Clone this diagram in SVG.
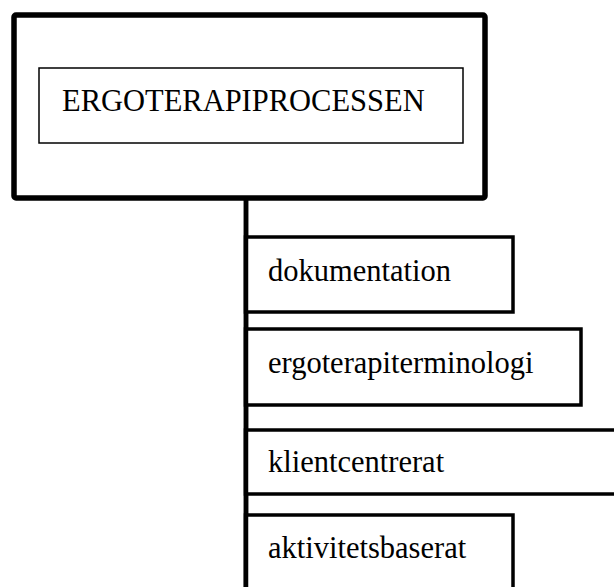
<svg xmlns="http://www.w3.org/2000/svg" width="614" height="587" viewBox="0 0 614 587">
<style>
.lbl{font-family:"Liberation Serif","Times New Roman",serif;font-size:30.5px;fill:#000}
.child{fill:#fff;stroke:#000;stroke-width:3.5}
</style>
<rect width="614" height="587" fill="#fff"/>
<g id="connectors">
<line x1="246" y1="198" x2="246" y2="590" stroke="#000" stroke-width="4.5"/>
</g>
<g id="root">
<rect x="14" y="15" width="471" height="183" rx="2" fill="#fff" stroke="#000" stroke-width="5.5"/>
<rect x="39" y="68" width="424" height="75" fill="none" stroke="#000" stroke-width="1.5"/>
<text class="lbl" x="62" y="111">ERGOTERAPIPROCESSEN</text>
</g>
<g id="dokumentation">
<rect class="child" x="245.5" y="237" width="267.5" height="75"/>
<text class="lbl" x="268" y="281">dokumentation</text>
</g>
<g id="ergoterapiterminologi">
<rect class="child" x="245.5" y="329" width="335.5" height="76"/>
<text class="lbl" x="268" y="373">ergoterapiterminologi</text>
</g>
<g id="klientcentrerat">
<rect class="child" x="245.5" y="430" width="400" height="64"/>
<text class="lbl" x="268" y="472">klientcentrerat</text>
</g>
<g id="aktivitetsbaserat">
<rect class="child" x="245.5" y="515" width="267.5" height="100"/>
<text class="lbl" x="268" y="558">aktivitetsbaserat</text>
</g>
<g id="trunk-over">
<line x1="246" y1="198" x2="246" y2="590" stroke="#000" stroke-width="4.5"/>
</g>
</svg>
